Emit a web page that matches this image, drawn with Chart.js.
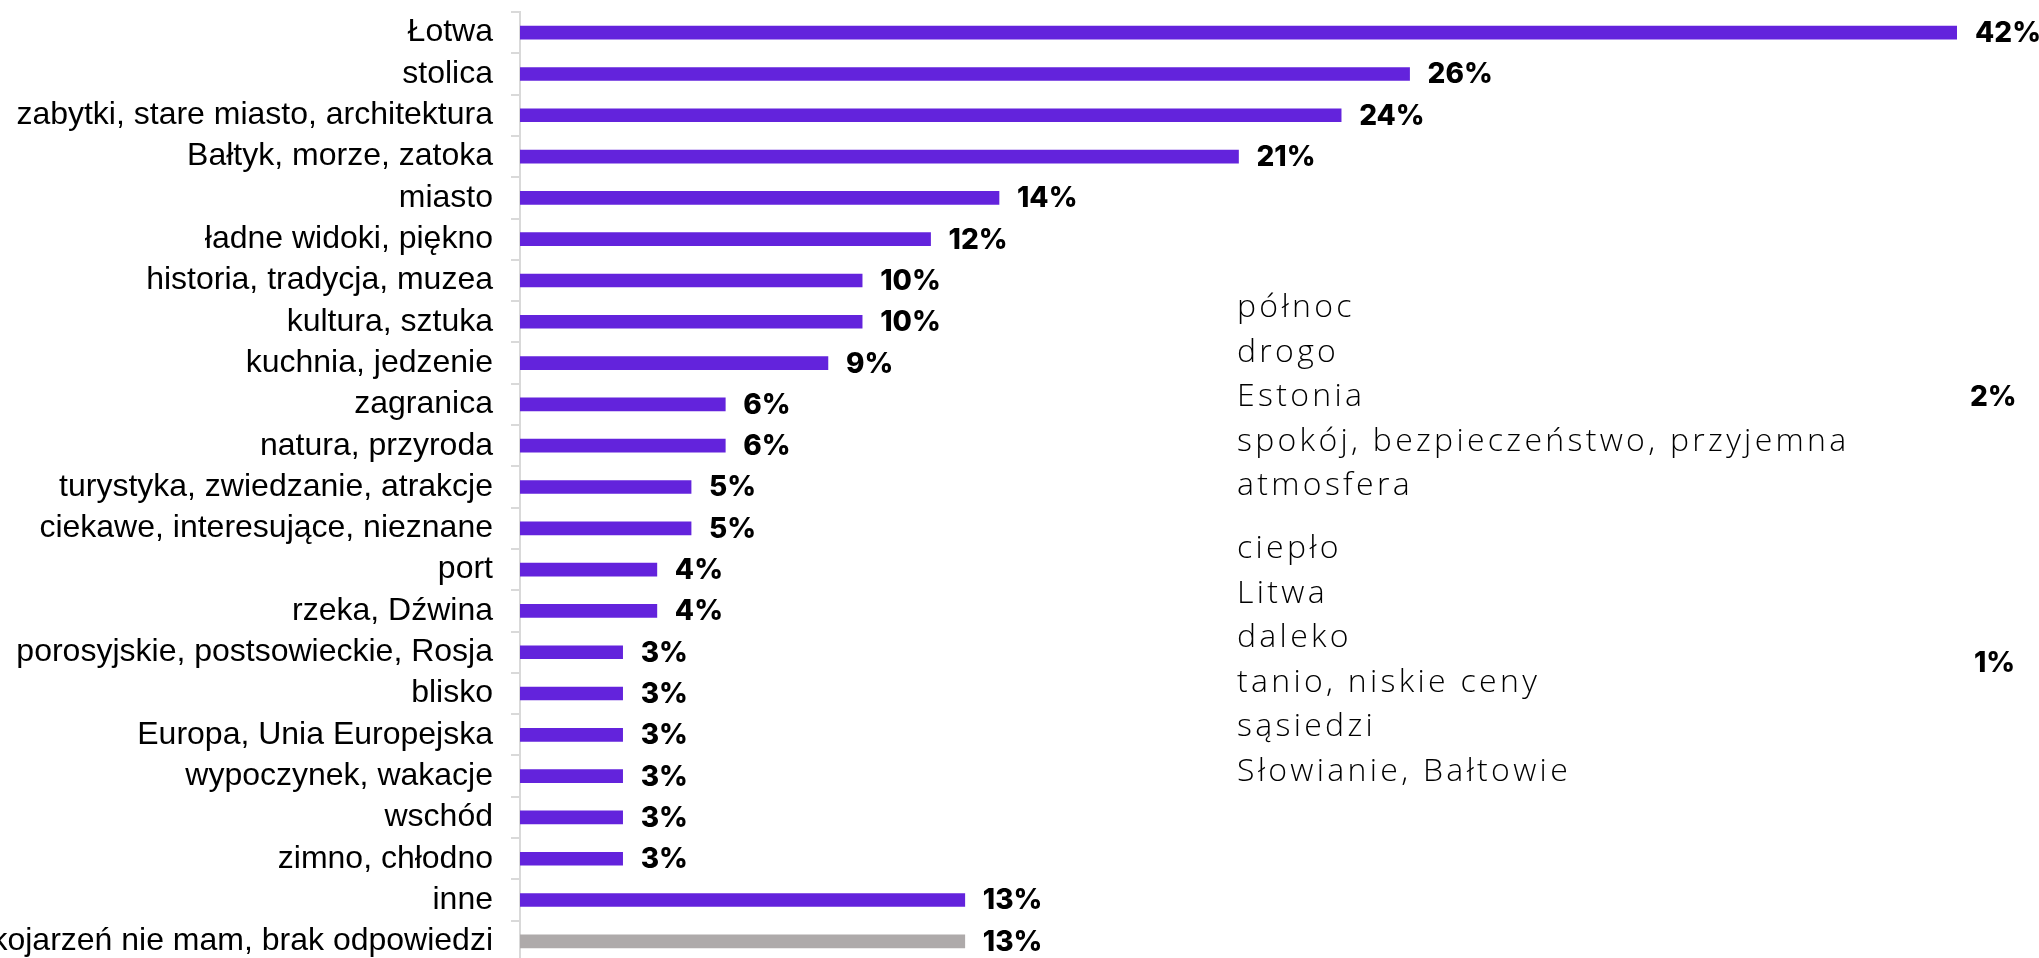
<!DOCTYPE html>
<html>
<head>
<meta charset="utf-8">
<script src="https://cdn.jsdelivr.net/npm/chart.js@4"></script>
<style>
  html, body { margin: 0; padding: 0; background: #fff; overflow: hidden; }
</style>
</head>
<body>
<canvas id="chart" width="2039" height="966"></canvas>
<script>
const labels = [
  "Łotwa", "stolica", "zabytki, stare miasto, architektura", "Bałtyk, morze, zatoka",
  "miasto", "ładne widoki, piękno", "historia, tradycja, muzea", "kultura, sztuka",
  "kuchnia, jedzenie", "zagranica", "natura, przyroda", "turystyka, zwiedzanie, atrakcje",
  "ciekawe, interesujące, nieznane", "port", "rzeka, Dźwina", "porosyjskie, postsowieckie, Rosja",
  "blisko", "Europa, Unia Europejska", "wypoczynek, wakacje", "wschód", "zimno, chłodno",
  "inne", "Skojarzeń nie mam, brak odpowiedzi"
];
const values = [42, 26, 24, 21, 14, 12, 10, 10, 9, 6, 6, 5, 5, 4, 4, 3, 3, 3, 3, 3, 3, 13, 13];

// smaller answers listed as text on the right
const twoPctItems = ["północ", "drogo", "Estonia", "spokój, bezpieczeństwo, przyjemna", "atmosfera"];
const twoPctValue = 2;
const onePctItems = ["ciepło", "Litwa", "daleko", "tanio, niskie ceny", "sąsiedzi", "Słowianie, Bałtowie"];
const onePctValue = 1;

const purple = "#6323dc";
const grey = "#aeaaaa";
const barColors = labels.map((l, i) => i === labels.length - 1 ? grey : purple);
const pctFont = "800 28px Inter";

const valueLabels = {
  id: "valueLabels",
  afterDatasetsDraw(chart) {
    const ctx = chart.ctx;
    const meta = chart.getDatasetMeta(0);
    ctx.save();
    ctx.font = pctFont;
    ctx.fillStyle = "#000";
    ctx.textAlign = "left";
    ctx.textBaseline = "middle";
    meta.data.forEach((bar, i) => {
      ctx.fillText(values[i] + "%", bar.x + 18, bar.y + 1);
    });
    ctx.restore();
  }
};

const sideList = {
  id: "sideList",
  afterDraw(chart) {
    const ctx = chart.ctx;
    ctx.save();
    ctx.fillStyle = "#000";
    ctx.textAlign = "left";
    ctx.textBaseline = "alphabetic";
    ctx.font = "300 32px 'Open Sans'";
    ctx.letterSpacing = "3.3px";
    const x = 1237, step = 44.5;
    twoPctItems.forEach((t, i) => ctx.fillText(t, x, 317 + i * step));
    onePctItems.forEach((t, i) => ctx.fillText(t, x, 558 + i * step));
    ctx.letterSpacing = "0px";
    ctx.font = pctFont;
    ctx.textBaseline = "middle";
    ctx.fillText(twoPctValue + "%", 1970, 398);
    ctx.fillText(onePctValue + "%", 1974, 664);
    ctx.restore();
  }
};

new Chart(document.getElementById("chart").getContext("2d"), {
  type: "bar",
  data: {
    labels: labels,
    datasets: [{
      data: values,
      backgroundColor: barColors,
      barThickness: 13
    }]
  },
  options: {
    indexAxis: "y",
    responsive: false,
    animation: false,
    layout: { padding: { top: 12, right: 82, bottom: 4, left: 0 } },
    plugins: { legend: { display: false }, tooltip: { enabled: false } },
    scales: {
      x: { min: 0, max: 42, display: false },
      y: {
        afterFit(scale) {
          scale.width = 520;
          scale.paddingTop = 0;
          scale.paddingBottom = 0;
        },
        border: { display: true, color: "#d9d9d9", width: 2 },
        grid: { drawOnChartArea: false, drawTicks: true, tickLength: 9, color: "#d9d9d9", lineWidth: 2 },
        ticks: { color: "#000", font: { family: "Liberation Sans", size: 32 }, padding: 18, autoSkip: false }
      }
    }
  },
  plugins: [valueLabels, sideList]
});
</script>
</body>
</html>
